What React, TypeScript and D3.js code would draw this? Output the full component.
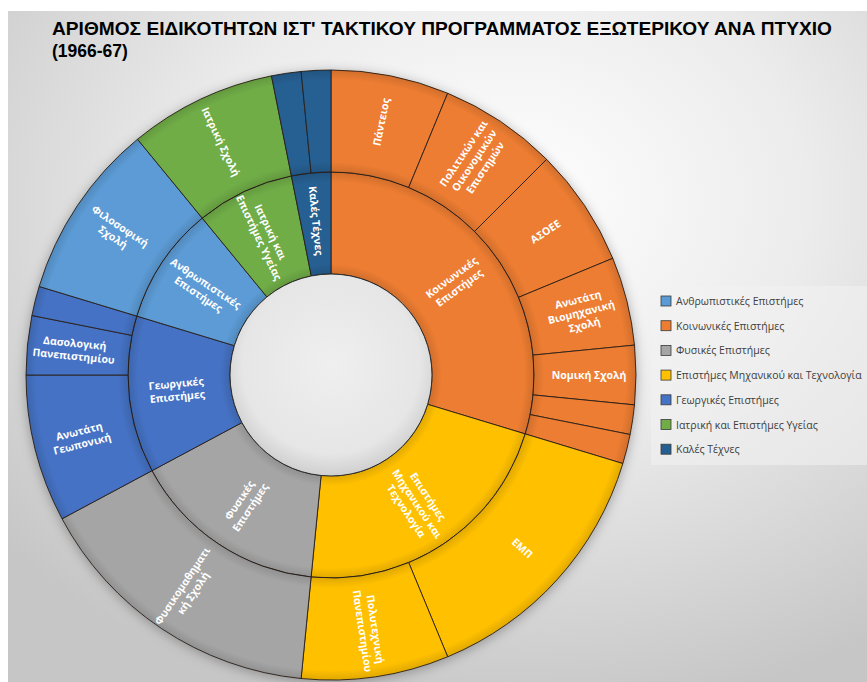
import React, { useEffect, useRef } from "react";
import * as d3 from "d3";

const W = 867;
const H = 682;

const titleLines = [
  "ΑΡΙΘΜΟΣ ΕΙΔΙΚΟΤΗΤΩΝ ΙΣΤ' ΤΑΚΤΙΚΟΥ ΠΡΟΓΡΑΜΜΑΤΟΣ ΕΞΩΤΕΡΙΚΟΥ ΑΝΑ ΠΤΥΧΙΟ",
  "(1966-67)",
];

// inner ring, clockwise from 12 o'clock
const fields = [
  "Κοινωνικές Επιστήμες",
  "Επιστήμες Μηχανικού και Τεχνολογία",
  "Φυσικές Επιστήμες",
  "Γεωργικές Επιστήμες",
  "Ανθρωπιστικές Επιστήμες",
  "Ιατρική και Επιστήμες Υγείας",
  "Καλές Τέχνες",
];
const fieldLabels = [
  ["Κοινωνικές", "Επιστήμες"],
  ["Επιστήμες", "Μηχανικού και", "Τεχνολογία"],
  ["Φυσικές", "Επιστήμες"],
  ["Γεωργικές", "Επιστήμες"],
  ["Ανθρωπιστικές", "Επιστήμες"],
  ["Ιατρική και", "Επιστήμες Υγείας"],
  ["Καλές Τέχνες"],
];
const fieldColors = ["#ED7D31", "#FFC000", "#A5A5A5", "#4472C4", "#5B9BD5", "#70AD47", "#255E91"];

// legend order as in the original
const legendOrder = [4, 0, 2, 1, 3, 5, 6];

// outer ring
const schools = [
  "Πάντειος",
  "Πολιτικών και Οικονομικών Επιστημών",
  "ΑΣΟΕΕ",
  "Ανωτάτη Βιομηχανική Σχολή",
  "Νομική Σχολή",
  "Κοινωνικές - λοιπά α",
  "Κοινωνικές - λοιπά β",
  "ΕΜΠ",
  "Πολυτεχνική Πανεπιστημίου",
  "Φυσικομαθηματική Σχολή",
  "Ανωτάτη Γεωπονική",
  "Δασολογική Πανεπιστημίου",
  "Γεωργικές - λοιπά",
  "Φιλοσοφική Σχολή",
  "Ιατρική Σχολή",
  "Καλές Τέχνες α",
  "Καλές Τέχνες β",
];
const schoolField = [0, 0, 0, 0, 0, 0, 0, 1, 1, 2, 3, 3, 3, 4, 5, 6, 6];
const schoolCounts = [4, 4, 4, 3, 2, 1, 1, 9, 5, 10, 5, 2, 1, 6, 5, 1, 1];
const schoolLabels = [
  ["Πάντειος"],
  ["Πολιτικών και", "Οικονομικών", "Επιστημών"],
  ["ΑΣΟΕΕ"],
  ["Ανωτάτη", "Βιομηχανική", "Σχολή"],
  ["Νομική Σχολή"],
  [],
  [],
  ["ΕΜΠ"],
  ["Πολυτεχνική", "Πανεπιστημίου"],
  ["Φυσικομαθηματι", "κή Σχολή"],
  ["Ανωτάτη", "Γεωπονική"],
  ["Δασολογική", "Πανεπιστημίου"],
  [],
  ["Φιλοσοφική", "Σχολή"],
  ["Ιατρική Σχολή"],
  [],
  [],
];

const App = () => {
  const svgRef = useRef<SVGSVGElement>(null);

  useEffect(() => {
    const svg = d3.select(svgRef.current);
    svg.selectAll("*").remove();

    const cx = 331;
    const cy = 375;
    const rHole = 101;
    const rOuter = 305;

    const defs = svg.append("defs");
    const bg = defs.append("radialGradient").attr("id", "bgGrad")
      .attr("cx", "58%").attr("cy", "28%").attr("r", "78%");
    bg.append("stop").attr("offset", "0%").attr("stop-color", "#ffffff");
    bg.append("stop").attr("offset", "45%").attr("stop-color", "#ececec");
    bg.append("stop").attr("offset", "100%").attr("stop-color", "#c6c6c6");

    const hole = defs.append("radialGradient").attr("id", "holeGrad")
      .attr("cx", "50%").attr("cy", "45%").attr("r", "55%");
    hole.append("stop").attr("offset", "0%").attr("stop-color", "#efefef");
    hole.append("stop").attr("offset", "80%").attr("stop-color", "#e6e6e6");
    hole.append("stop").attr("offset", "100%").attr("stop-color", "#cfcfcf");

    const shadow = defs.append("filter").attr("id", "shadow")
      .attr("x", "-20%").attr("y", "-20%").attr("width", "140%").attr("height", "140%");
    shadow.append("feDropShadow").attr("dx", 0).attr("dy", 2)
      .attr("stdDeviation", 6).attr("flood-color", "#000").attr("flood-opacity", 0.3);

    // background
    svg.append("rect").attr("x", 8).attr("y", 11).attr("width", W - 8).attr("height", H - 11)
      .attr("fill", "url(#bgGrad)");

    // title
    svg.selectAll(".title").data(titleLines).enter().append("text")
      .attr("x", 52).attr("y", (d, i) => 35 + i * 22)
      .attr("font-family", "'Liberation Sans', Arial, sans-serif")
      .attr("font-weight", "bold").attr("font-size", 17.5).attr("fill", "#000")
      .attr("textLength", (d, i) => (i === 0 ? 780 : null))
      .attr("lengthAdjust", "spacingAndGlyphs")
      .text(d => d);

    // hierarchy
    const rootData = {
      name: "root",
      children: fields.map((f, i) => ({
        name: f,
        fi: i,
        lines: fieldLabels[i],
        children: schools
          .map((s, j) => ({ name: s, fi: i, lines: schoolLabels[j], value: schoolCounts[j], f: schoolField[j] }))
          .filter(s => s.f === i),
      })),
    };
    const root = d3.partition<any>().size([2 * Math.PI, 3])(
      d3.hierarchy<any>(rootData).sum(d => d.value ?? 0)
    );
    const nodes = root.descendants().filter(d => d.depth > 0);

    const rScale = d3.scaleLinear().domain([1, 3]).range([rHole, rOuter]);
    const arcGen = d3.arc<any>()
      .startAngle(d => d.x0).endAngle(d => d.x1)
      .innerRadius(d => rScale(d.y0)).outerRadius(d => rScale(d.y1));

    const chart = svg.append("g").attr("transform", `translate(${cx},${cy})`);

    chart.append("g").attr("filter", "url(#shadow)")
      .selectAll("path").data(nodes).enter().append("path")
      .attr("d", arcGen)
      .attr("fill", d => fieldColors[d.data.fi])
      .attr("stroke", "#2a1f18").attr("stroke-width", 0.9);

    // soft edge shading per ring
    [1, 2].forEach(depth => {
      const r0 = rScale(depth);
      const r1 = rScale(depth + 1);
      const g = defs.append("radialGradient").attr("id", `ring${depth}`)
        .attr("gradientUnits", "userSpaceOnUse").attr("cx", 0).attr("cy", 0).attr("r", r1);
      g.append("stop").attr("offset", r0 / r1).attr("stop-color", "#000").attr("stop-opacity", 0.12);
      g.append("stop").attr("offset", (r0 + 10) / r1).attr("stop-color", "#000").attr("stop-opacity", 0);
      g.append("stop").attr("offset", (r1 - 10) / r1).attr("stop-color", "#000").attr("stop-opacity", 0);
      g.append("stop").attr("offset", 1).attr("stop-color", "#000").attr("stop-opacity", 0.12);
      chart.append("path")
        .attr("d", d3.arc()({ innerRadius: r0, outerRadius: r1, startAngle: 0, endAngle: 2 * Math.PI } as any))
        .attr("fill", `url(#ring${depth})`).attr("pointer-events", "none");
    });

    chart.append("circle").attr("r", rHole).attr("fill", "url(#holeGrad)")
      .attr("stroke", "#2a2a2a").attr("stroke-width", 1);

    // labels, radial orientation (flipped on the left half)
    const lineH = 13;
    const labels = chart.selectAll(".lbl").data(nodes.filter(d => d.data.lines.length > 0)).enter()
      .append("text")
      .attr("transform", d => {
        const a = (d.x0 + d.x1) / 2;
        const r = rScale((d.y0 + d.y1) / 2) + (d.depth === 2 ? 4 : 3);
        let rot = (a * 180) / Math.PI - 90;
        if (rot > 90) rot -= 180;
        return `translate(${r * Math.sin(a)},${-r * Math.cos(a)}) rotate(${rot})`;
      })
      .attr("text-anchor", "middle")
      .attr("font-family", "'Open Sans', 'Noto Sans', sans-serif")
      .attr("font-weight", "bold").attr("font-size", 10.5).attr("fill", "#ffffff");
    labels.each(function (d: any) {
      const n = d.data.lines.length;
      d3.select(this).selectAll("tspan").data(d.data.lines).enter().append("tspan")
        .attr("x", 0)
        .attr("y", (t, i) => (i - (n - 1) / 2) * lineH + 3.7)
        .text(t => t as string);
    });

    // legend
    svg.append("rect").attr("x", 651).attr("y", 286).attr("width", 216).attr("height", 179)
      .attr("fill", "#f3f3f3").attr("opacity", 0.55);
    const legend = svg.append("g").selectAll("g").data(legendOrder).enter().append("g")
      .attr("transform", (d, i) => `translate(661,${296 + i * 24.7})`);
    legend.append("rect").attr("width", 10).attr("height", 10)
      .attr("fill", d => fieldColors[d]).attr("stroke", "#3a3a3a").attr("stroke-width", 0.8);
    legend.append("text").attr("x", 15).attr("y", 9)
      .attr("font-family", "'Open Sans', 'Noto Sans', sans-serif")
      .attr("font-size", 10.5).attr("fill", "#404040")
      .text(d => fields[d]);
  }, []);

  return (
    <svg ref={svgRef} width={W} height={H}
      style={{ position: "absolute", left: 0, top: 0, display: "block" }} />
  );
};

export default App;
